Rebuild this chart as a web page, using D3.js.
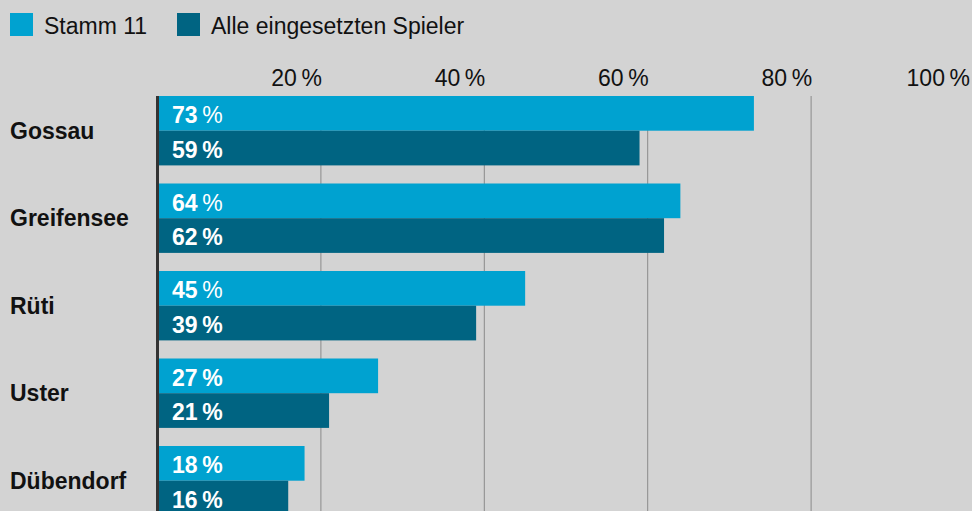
<!DOCTYPE html>
<html>
<head>
<meta charset="utf-8">
<script src="https://cdn.jsdelivr.net/npm/d3@7"></script>
<style>
  html, body { margin: 0; padding: 0; background: #d3d3d3; }
  svg { display: block; font-family: "Liberation Sans", Arial, sans-serif; }
</style>
</head>
<body>
<svg id="chart" width="972" height="511"></svg>
<script>
// Daten
const orte = ["Gossau", "Greifensee", "Rüti", "Uster", "Dübendorf"];
const stamm11 = [73, 64, 45, 27, 18];
const alleSpieler = [59, 62, 39, 21, 16];
const serien = ["Stamm 11", "Alle eingesetzten Spieler"];
const ticks = [20, 40, 60, 80, 100];
// bei diesen Balken ist das Prozentzeichen nicht fett
const duennesProzent = ["Gossau", "Greifensee", "Rüti"];

const farben = ["#00a2d0", "#006482"];

const svg = d3.select("#chart");
const width = +svg.attr("width"),
      height = +svg.attr("height");

const x0 = 157.5, yTop = 96;

// Skalen
const x = d3.scaleLinear().domain([0, 100]).range([x0, x0 + 817]);
const y = d3.scaleBand().domain(orte).range([yTop, yTop + 87.5 * 5]).paddingInner(0).paddingOuter(0);
const barH = 34.7;

// Legende
serien.forEach((s, i) => {
    const lx = [10, 177][i];
    svg.append("rect").attr("x", lx).attr("y", 13).attr("width", 23).attr("height", 23).attr("fill", farben[i]);
    svg.append("text").attr("x", lx + 34).attr("y", 34).text(s)
        .style("font-size", "23px").attr("fill", "#111");
});

// Gitterlinien + Achsenbeschriftung
svg.selectAll(".grid").data(ticks).join("line")
    .attr("x1", d => x(d)).attr("x2", d => x(d))
    .attr("y1", yTop).attr("y2", height)
    .attr("stroke", "#8a8a8a").attr("stroke-width", 1);

svg.selectAll(".tick").data(ticks).join("text")
    .attr("x", d => Math.min(x(d) + 1, 970)).attr("y", 86)
    .attr("text-anchor", "end")
    .style("font-size", "23px").attr("fill", "#111")
    .text(d => d + "\u2009%");

// Balken
const daten = [];
orte.forEach((o, i) => {
    daten.push({ ort: o, serie: 0, wert: stamm11[i] });
    daten.push({ ort: o, serie: 1, wert: alleSpieler[i] });
});

svg.selectAll(".bar").data(daten).join("rect")
    .attr("x", x(0))
    .attr("y", d => y(d.ort) + d.serie * barH)
    .attr("width", d => x(d.wert) - x(0))
    .attr("height", barH)
    .attr("fill", d => farben[d.serie]);

// Werte in den Balken
const lbl = svg.selectAll(".lbl").data(daten).join("text")
    .attr("x", 172)
    .attr("y", d => y(d.ort) + d.serie * barH + 27)
    .attr("fill", "#fff")
    .style("font-size", "23px");
lbl.append("tspan").style("font-weight", "bold").text(d => d.wert);
lbl.append("tspan")
    .style("font-weight", d => (d.serie === 0 && duennesProzent.includes(d.ort)) ? "normal" : "bold")
    .text("\u2009%");

// Kategorien
svg.selectAll(".ort").data(orte).join("text")
    .attr("x", 10)
    .attr("y", d => y(d) + barH + 8)
    .style("font-size", "23px").style("font-weight", "bold").attr("fill", "#111")
    .text(d => d);

// Nulllinie
svg.append("line")
    .attr("x1", x(0)).attr("x2", x(0))
    .attr("y1", yTop).attr("y2", height)
    .attr("stroke", "#333").attr("stroke-width", 3);
</script>
</body>
</html>
